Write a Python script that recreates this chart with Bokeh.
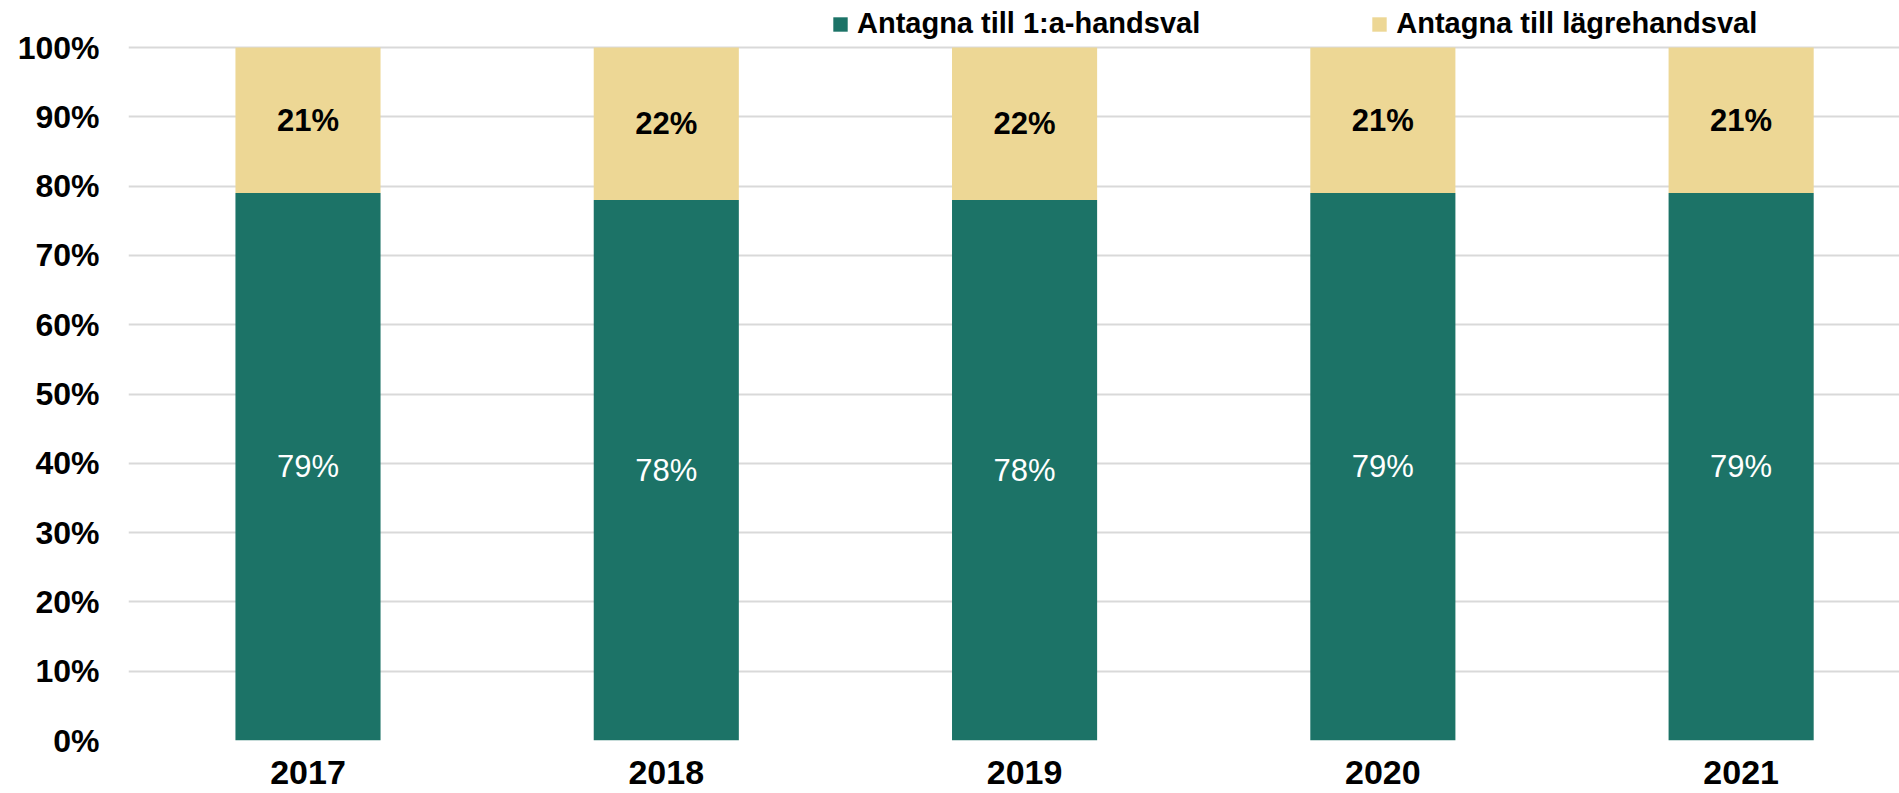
from bokeh.plotting import figure
from bokeh.models import (ColumnDataSource, Range1d, FixedTicker, NumeralTickFormatter,
                          Legend, LegendItem, LabelSet)
from bokeh.core.properties import value
from bokeh.embed import file_html
from bokeh.resources import INLINE

years = ["2017", "2018", "2019", "2020", "2021"]
first_choice = [0.79, 0.78, 0.78, 0.79, 0.79]
lower_choice = [0.21, 0.22, 0.22, 0.21, 0.21]
series_names = ["Antagna till 1:a-handsval", "Antagna till lägrehandsval"]
y_ticks = [0.0, 0.1, 0.2, 0.3, 0.4, 0.5, 0.6, 0.7, 0.8, 0.9, 1.0]

GREEN = "#1c7367"
TAN = "#edd795"
FONT = "Liberation Sans"

xs = list(range(len(years)))
top1 = first_choice
top2 = [a + b for a, b in zip(first_choice, lower_choice)]
src = ColumnDataSource(dict(
    x=xs, year=years, first=first_choice, lower=lower_choice,
    bottom1=[0] * len(xs), top1=top1, top2=top2,
    mid1=[t / 2 for t in top1],
    mid2=[a + (b - a) / 2 for a, b in zip(top1, top2)],
    lab1=[f"{round(v * 100)}%" for v in first_choice],
    lab2=[f"{round(v * 100)}%" for v in lower_choice],
))

p = figure(width=1899, height=793, output_backend="svg", toolbar_location=None,
           x_range=Range1d(-0.501, 4.442), y_range=Range1d(0, 740 / 693),
           min_border_left=128, min_border_right=0, min_border_top=0, min_border_bottom=53)
p.outline_line_color = None
p.background_fill_color = "white"

r1 = p.vbar(x="x", bottom="bottom1", top="top1", width=0.405, source=src,
            fill_color=GREEN, line_color=None)
r2 = p.vbar(x="x", bottom="top1", top="top2", width=0.405, source=src,
            fill_color=TAN, line_color=None)

p.add_layout(LabelSet(x="x", y="mid1", text="lab1", source=src, text_align="center",
                      text_baseline="middle", text_color="white", text_font=value(FONT),
                      text_font_size="31px"))
p.add_layout(LabelSet(x="x", y="mid2", text="lab2", source=src, text_align="center",
                      text_baseline="middle", text_color="black", text_font=value(FONT),
                      text_font_size="31px", text_font_style="bold"))

# axes
p.xaxis.ticker = FixedTicker(ticks=xs)
p.xaxis.major_label_overrides = {i: y for i, y in zip(xs, years)}
p.yaxis.ticker = FixedTicker(ticks=y_ticks)
p.yaxis.formatter = NumeralTickFormatter(format="0%")
for ax in (p.xaxis, p.yaxis):
    ax.axis_line_color = None
    ax.major_tick_line_color = None
    ax.minor_tick_line_color = None
    ax.major_label_text_font = FONT
    ax.major_label_text_font_style = "bold"
    ax.major_label_text_color = "black"
p.yaxis.major_label_text_font_size = "32px"
p.yaxis.major_label_standoff = 23
p.xaxis.major_label_text_font_size = "34px"
p.xaxis.major_label_standoff = 14

p.xgrid.grid_line_color = None
p.ygrid.grid_line_color = "#d9d9d9"
p.ygrid.grid_line_width = 2

legend = Legend(items=[LegendItem(label=series_names[0], renderers=[r1]),
                       LegendItem(label=series_names[1], renderers=[r2])],
                location=(703, 700), orientation="horizontal",
                label_text_font=FONT, label_text_font_size="29px",
                label_text_font_style="bold", label_text_color="black",
                glyph_width=18, glyph_height=18, label_standoff=8, spacing=170,
                padding=0, margin=0, border_line_color=None, background_fill_alpha=0)
p.add_layout(legend, "center")

open("out.html", "w").write(file_html(p, INLINE))
